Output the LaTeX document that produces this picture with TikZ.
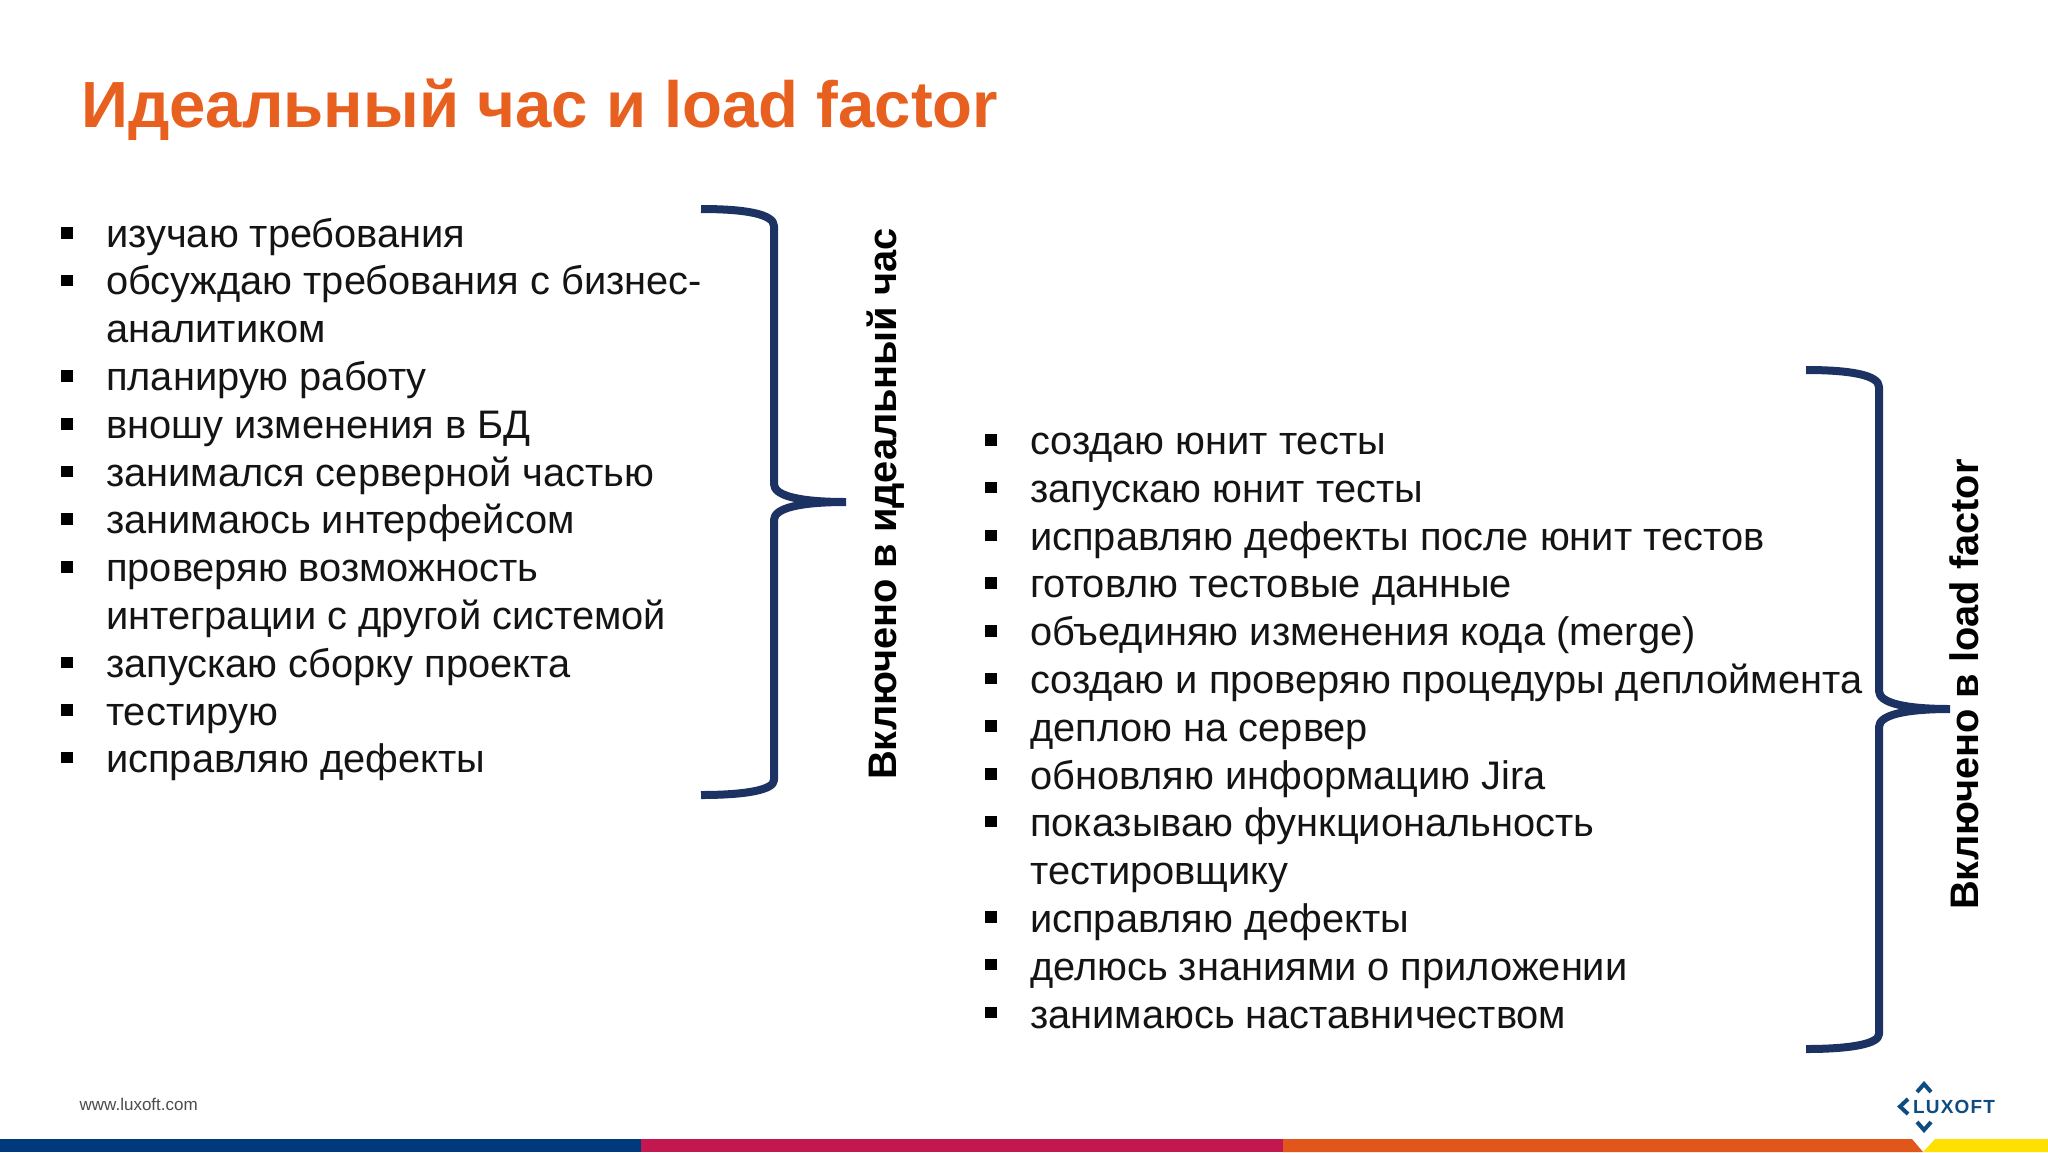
\documentclass[tikz,border=0pt]{standalone}
\usepackage{fontspec}
\setmainfont{Liberation Sans}
\definecolor{titleor}{HTML}{E8601F}
\definecolor{bracenavy}{HTML}{1B3263}
\definecolor{barblue}{HTML}{003A7D}
\definecolor{barred}{HTML}{C2184F}
\definecolor{barorange}{HTML}{E0561B}
\definecolor{baryellow}{HTML}{FFE000}
\definecolor{logoblue}{HTML}{0F4C81}
\tikzset{
  x=1pt,y=-1pt,
  item/.style={anchor=base west,inner sep=0pt,text=black!92,font=\fontsize{39.8}{46}\selectfont},
  bulletmark/.style={fill=black,inner sep=0pt,minimum size=11.5pt,rectangle},
  vlabel/.style={anchor=base,rotate=90,inner sep=0pt,text=black,font=\fontsize{39.8}{46}\selectfont\bfseries},
  bracket/.style={draw=bracenavy,line width=8pt,fill=none,line join=bevel},
  chev/.style={draw=logoblue,line width=4pt,fill=none},
}
\begin{document}
\begin{tikzpicture}
\useasboundingbox (0,0) rectangle (2048,1152);
\fill[white] (0,0) rectangle (2048,1152);
% title
\node[anchor=base west,inner sep=0pt,text=titleor,font=\fontsize{65.3}{70}\selectfont\bfseries] (title) at (81,127.5) {Идеальный час и load factor};
% left list
\foreach \n/\t/\b in {0/изучаю требования/1,1/обсуждаю требования с бизнес-/1,2/аналитиком/0,3/планирую работу/1,4/вношу изменения в БД/1,5/занимался серверной частью/1,6/занимаюсь интерфейсом/1,7/проверяю возможность/1,8/интеграции с другой системой/0,9/запускаю сборку проекта/1,10/тестирую/1,11/исправляю дефекты/1}{
  \node[item] (l\n) at (106,{247+47.8*\n}) {\t};
  \ifnum\b=1 \node[bulletmark] (lb\n) at (67,{233+47.7*\n}) {}; \fi
}
% right list
\foreach \n/\t/\b in {0/создаю юнит тесты/1,1/запускаю юнит тесты/1,2/исправляю дефекты после юнит тестов/1,3/готовлю тестовые данные/1,4/объединяю изменения кода (merge)/1,5/создаю и проверяю процедуры деплоймента/1,6/деплою на сервер/1,7/обновляю информацию Jira/1,8/показываю функциональность/1,9/тестировщику/0,10/исправляю дефекты/1,11/делюсь знаниями о приложении/1,12/занимаюсь наставничеством/1}{
  \node[item] (r\n) at (1030,{454.5+47.8*\n}) {\t};
  \ifnum\b=1 \node[bulletmark] (rb\n) at (991,{440+47.7*\n}) {}; \fi
}
% braces
\draw[bracket] (701,209) .. controls (745,209) and (774,214) .. (774,226) -- (774,484)
  .. controls (774,496) and (800,502) .. (846,502)
  .. controls (800,502) and (774,508) .. (774,520) -- (774,780)
  .. controls (774,790) and (745,795) .. (701,795);
\draw[bracket] (1806,370) .. controls (1850,370) and (1879,375) .. (1879,387) -- (1879,691)
  .. controls (1879,703) and (1905,709) .. (1950,709)
  .. controls (1905,709) and (1879,715) .. (1879,727) -- (1879,1034)
  .. controls (1879,1044) and (1850,1049) .. (1806,1049);
% rotated labels
\node[vlabel] (lbl1) at (896,504) {Включено в идеальный час};
\node[vlabel] (lbl2) at (1978,684.5) {Включено в load factor};
% footer
\node[anchor=base west,inner sep=0pt,text=black!70,font=\fontsize{17}{20}\selectfont] (url) at (79.5,1110) {www.luxoft.com};
% bar
\fill[barblue] (0,1139) rectangle (641,1152);
\fill[barred] (641,1139) rectangle (1283,1152);
\fill[barorange] (1283,1139) -- (1912,1139) -- (1923,1152) -- (1283,1152) -- cycle;
\fill[baryellow] (1935,1139) -- (2048,1139) -- (2048,1152) -- (1923,1152) -- cycle;
% logo
\node[anchor=base west,inner sep=0pt,text=logoblue,font=\fontsize{19}{20}\selectfont\bfseries\addfontfeature{LetterSpace=6}] (logo) at (1913,1113) {LUXOFT};
\draw[chev] (1908,1099) -- (1900,1106.5) -- (1908,1114);
\draw[chev] (1917,1092) -- (1924,1084) -- (1931,1092);
\draw[chev] (1917,1122) -- (1924,1130) -- (1931,1122);
\end{tikzpicture}
\end{document}
